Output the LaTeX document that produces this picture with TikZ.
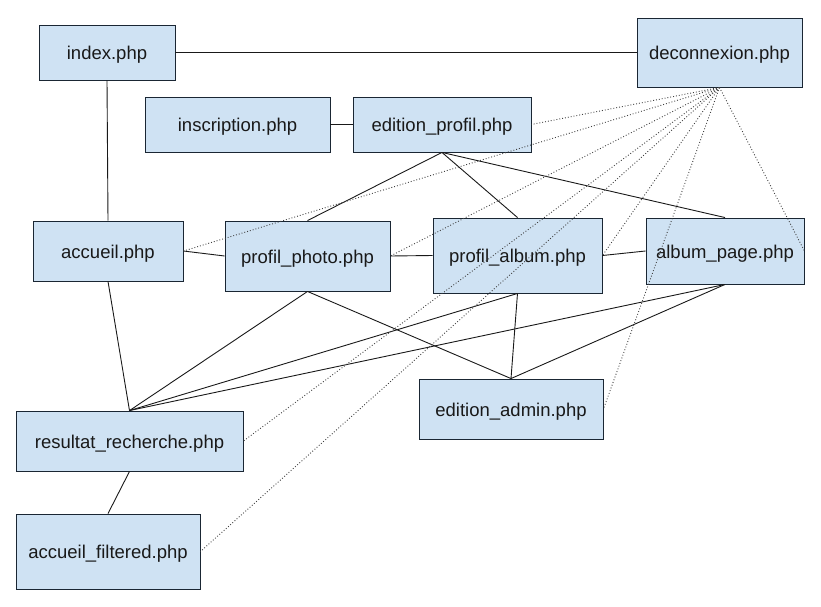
\documentclass[tikz,border=0pt]{standalone}
\usepackage{fontspec}
\setmainfont{Liberation Sans}
\definecolor{boxfill}{HTML}{CFE2F3}
\definecolor{boxline}{HTML}{1A2633}
\begin{document}
\begin{tikzpicture}[x=1pt,y=-1pt,
  page/.style={draw=boxline,fill=boxfill,line width=0.9pt,inner sep=0pt,
    text height=15pt,text depth=1pt,
    font=\fontsize{18.5}{22}\selectfont,text=black!90},
  link/.style={draw=black!90,line width=0.9pt},
  logout/.style={draw=black!75,line width=0.9pt,dotted}]
\useasboundingbox (0,0) rectangle (821,607);
\node[page,minimum width=136pt,minimum height=55pt] (index) at (107,52.5) {index.php};
\node[page,minimum width=165pt,minimum height=69pt] (deco) at (719.5,52.5) {deconnexion.php};
\node[page,minimum width=185pt,minimum height=55pt] (insc) at (237.5,124.5) {inscription.php};
\node[page,minimum width=178pt,minimum height=55pt] (edprof) at (442,124.5) {edition\_profil.php};
\node[page,minimum width=150pt,minimum height=60pt] (accueil) at (108,251) {accueil.php};
\node[page,minimum width=165pt,minimum height=70pt] (photo) at (307.5,256) {profil\_photo.php};
\node[page,minimum width=169pt,minimum height=75pt] (album) at (517.5,255.5) {profil\_album.php};
\node[page,minimum width=158pt,minimum height=66pt] (apage) at (725,251) {album\_page.php};
\node[page,minimum width=184pt,minimum height=60pt] (admin) at (511,409) {edition\_admin.php};
\node[page,minimum width=227pt,minimum height=60pt] (res) at (129.5,441) {resultat\_recherche.php};
\node[page,minimum width=184pt,minimum height=75pt] (filt) at (108,551.5) {accueil\_filtered.php};
% solid links
\draw[link] (index.east) -- (deco.west);
\draw[link] (index.south) -- (accueil.north);
\draw[link] (insc.east) -- (edprof.west);
\draw[link] (edprof.south) -- (photo.north);
\draw[link] (edprof.south) -- (album.north);
\draw[link] (edprof.south) -- (apage.north);
\draw[link] (accueil.east) -- (photo.west);
\draw[link] (photo.east) -- (album.west);
\draw[link] (album.east) -- (apage.west);
\draw[link] (accueil.south) -- (res.north);
\draw[link] (photo.south) -- (res.north);
\draw[link] (album.south) -- (res.north);
\draw[link] (apage.south) -- (res.north);
\draw[link] (photo.south) -- (admin.north);
\draw[link] (album.south) -- (admin.north);
\draw[link] (apage.south) -- (admin.north);
\draw[link] (res.south) -- (filt.north);
% dotted links to deconnexion
\draw[logout] (deco.south) -- (edprof.east);
\draw[logout] (deco.south) -- (accueil.east);
\draw[logout] (deco.south) -- (photo.east);
\draw[logout] (deco.south) -- (album.east);
\draw[logout] (deco.south) -- (apage.east);
\draw[logout] (deco.south) -- (admin.east);
\draw[logout] (deco.south) -- (res.east);
\draw[logout] (deco.south) -- (filt.east);
\end{tikzpicture}
\end{document}
